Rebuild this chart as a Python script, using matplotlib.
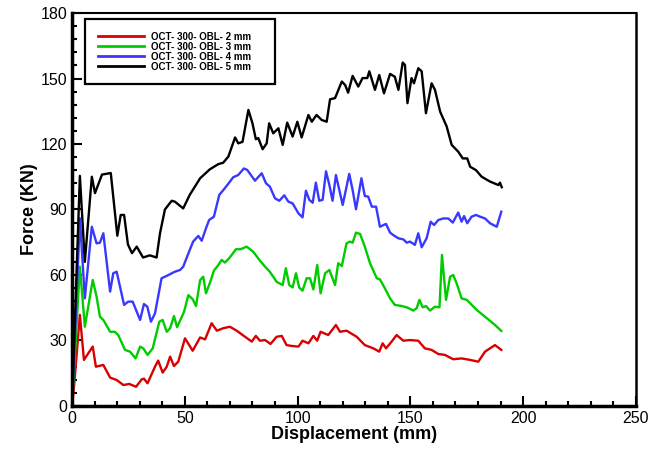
import matplotlib.pyplot as plt
from matplotlib.ticker import MultipleLocator

# data (displacement mm, force kN)
x2 = [0, 1, 3.5, 5.3, 9.2, 10.6, 13.9, 16.9, 19.8, 22.8, 25.4, 28.4, 30.9, 31.9, 33.5, 36.8, 38.2, 40.2,
      42.0, 43.5, 45.2, 47.1, 50.1, 53.5, 56.8, 59.0, 61.9, 64.2, 67.0, 70.0, 73.0, 76.7, 79.7, 81.5,
      83.3, 85.6, 88.0, 90.7, 93.0, 95.1, 97.4, 100.4, 102.2, 104.8, 107.0, 108.7, 110.2, 113.6, 117.0,
      118.8, 121.7, 126.2, 129.8, 133.6, 136.2, 137.7, 139.2, 141.7, 143.9, 146.9, 149.8, 153.5, 156.4,
      159.4, 162.4, 165.3, 169.0, 172.7, 176.5, 180.1, 183.1, 187.5, 190.3]
f2 = [0, 10, 41.7, 21.1, 27.2, 18, 18.8, 13, 11.9, 9.6, 10.1, 8.8, 12.2, 12.5, 10.4, 18, 20.8, 15.3,
      18, 22.6, 18.3, 20.3, 31, 25.3, 31.4, 30.5, 37.9, 34.5, 35.6, 36.3, 34.5, 31.7, 29.5, 32.1,
      29.9, 30.2, 28.4, 31.7, 32.1, 27.9, 27.5, 27.2, 29.9, 28.7, 32.1, 29.9, 34, 32.5, 37.1,
      34, 34.5, 31.7, 27.9, 26.4, 24.9, 28.7, 26.4, 29.5, 32.5, 29.9, 30.2, 29.9, 26.4,
      25.7, 23.8, 23.4, 21.4, 21.8, 21.1, 20.3, 24.9, 27.9, 25.7]

x3 = [0, 3.5, 5.7, 9.2, 10.9, 12.4, 13.9, 16.9, 19.0, 20.5, 23.5, 25.7, 28.2, 30.2, 31.6, 33.5, 35.8,
      38.7, 40.2, 42.0, 43.5, 45.2, 46.6, 49.7, 51.6, 53.5, 55.0, 56.8, 58.2, 59.4, 61.5, 62.9, 64.9,
      66.3, 67.8, 69.7, 72.7, 74.8, 77.4, 80.3, 83.3, 85.6, 87.7, 90.7, 93.4, 94.8, 96.3, 97.8, 99.3,
      100.7, 102.2, 104.0, 105.5, 107.0, 108.7, 110.2, 112.2, 114.1, 116.6, 118.0, 119.6, 121.7, 123.2,
      124.4, 125.9, 127.7, 129.8, 132.1, 135.1, 136.5, 138.7, 141.0, 143.1, 146.1, 148.4, 151.3, 152.8,
      154.0, 155.5, 156.9, 158.7, 160.9, 162.9, 164.0, 165.8, 167.6, 169.0, 170.5, 172.7, 175.0, 179.4,
      183.9, 187.5, 190.3]
f3 = [0, 63.8, 36.3, 57.7, 50.1, 40.9, 39.4, 34, 34, 32.5, 25.7, 24.9, 21.8, 27.2, 26.4, 23.4, 26.4,
      38.6, 39.4, 34, 35.6, 41.2, 36.1, 43.2, 50.8, 48.9, 45.8, 57.7, 59.2, 51.6, 57.4, 62, 64.6,
      66.9, 65.7, 67.7, 71.8, 71.8, 73, 70.7, 66.6, 63.8, 61.5, 56.9, 55.4, 63.1, 55.4, 54.3, 60.8,
      54.3, 52.8, 58.5, 58.5, 53.4, 64.6, 51.6, 60.8, 62.3, 55.4, 65.4, 64.1, 74.5, 75.3,
      74.8, 79.4, 78.8, 73, 65.4, 58.5, 58, 53.9, 49.3, 46.3, 45.8, 45.2, 43.7, 44.8,
      48.6, 45.2, 45.8, 43.7, 45.5, 45.2, 69.2, 48.6, 59.2, 60, 56.2, 49.3, 48.6, 44,
      40.2, 37.1, 34.4]

x4 = [0, 3.5, 5.7, 8.8, 10.9, 12.4, 13.9, 16.9, 18.3, 19.8, 23.1, 24.9, 26.9, 30.2, 31.9, 33.4, 35.0,
      36.8, 39.7, 42.0, 45.6, 47.9, 49.3, 51.6, 53.7, 56.0, 57.5, 59.4, 60.8, 62.9, 65.3, 67.8, 71.5,
      73.7, 76.2, 77.7, 81.1, 84.1, 86.0, 87.7, 90.0, 91.9, 94.1, 95.9, 97.8, 100.4, 102.2, 103.7,
      105.2, 106.7, 108.1, 109.6, 111.1, 112.6, 114.1, 115.5, 117.0, 118.5, 120.0, 122.9, 124.4, 125.9,
      128.3, 129.8, 131.3, 132.9, 134.8, 136.5, 139.2, 141.0, 142.4, 144.7, 146.9, 148.4, 149.8, 152.0,
      153.5, 155.0, 157.2, 159.0, 160.5, 162.4, 164.6, 166.8, 168.8, 171.2, 172.7, 173.8, 175.2, 177.1,
      179.1, 180.9, 183.1, 185.3, 188.3, 190.3]
f4 = [0, 86, 49.3, 82.1, 74.5, 74.8, 79.1, 52.4, 60.8, 61.5, 46.3, 47.8, 47.8, 39.4, 46.7, 45.5, 38.6,
      42.4, 58.5, 59.6, 61.5, 62.3, 63.8, 69.9, 75.3, 77.9, 75.7, 81.4, 85.2, 86.7, 96.7, 99.8, 104.8,
      105.8, 108.8, 108.1, 103.2, 106.6, 102, 100.5, 95.1, 94, 96.5, 93.6, 92.8, 88.2, 86.4, 98.6,
      94.4, 93.1, 102.3, 94, 94.4, 107.5, 101.2, 94, 105.8, 98.9, 92.1, 106.3, 98.9, 90.1,
      104.3, 96.2, 95.9, 91.3, 91.3, 82.1, 83.4, 79.4, 78.3, 76.8, 76.3, 74.8, 75.3, 73.8,
      79.1, 72.7, 76.8, 84.4, 82.9, 85.2, 85.9, 85.9, 84, 88.6, 84.4, 87, 83.7, 86.7,
      87.5, 86.7, 85.9, 83.7, 82.1, 89]

x5 = [0, 3.5, 5.7, 8.8, 10.2, 13.3, 17.2, 20.1, 21.6, 23.1, 24.8, 26.6, 28.7, 31.5, 34.5, 37.5, 39.0,
      41.2, 44.2, 45.6, 49.3, 52.2, 56.8, 61.1, 64.9, 67.0, 69.3, 72.3, 73.7, 75.6, 78.2, 80.0, 81.5,
      82.6, 84.5, 86.3, 87.4, 89.2, 91.5, 93.4, 95.4, 97.8, 99.9, 101.8, 104.8, 106.3, 108.4, 110.7,
      112.9, 114.4, 116.6, 119.6, 121.1, 122.4, 124.4, 126.9, 128.8, 130.9, 131.8, 134.3, 136.2, 138.3,
      141.0, 143.1, 144.7, 146.6, 147.6, 148.7, 150.5, 151.6, 153.5, 155.0, 156.9, 159.4, 160.9, 163.2,
      166.1, 168.3, 171.2, 173.2, 175.2, 176.5, 179.1, 181.6, 185.3, 189.0, 189.7, 190.5]
f5 = [0, 105.4, 66, 105, 97.5, 106, 106.7, 78, 87.5, 87.5, 74, 70, 73, 68, 69, 68, 79,
      90, 94, 93.6, 90.5, 96.7, 104.3, 108.4, 110.8, 111.4, 114.2, 123, 120.3, 121, 135.6, 129.5, 122.2,
      122.7, 117.6, 120.3, 129.5, 124.9, 127.2, 119.6, 129.8, 123.4, 130.2, 123, 133.3, 130.2, 133.3,
      131, 130.2, 140.5, 141, 148.6, 147, 143.5, 151.2, 146.3, 150.2, 150.2, 153.3, 144.8, 151.6,
      143.2, 152.1, 150.8, 144.8, 157.3, 156.2, 138.7, 150.2, 147.8, 154.7, 153.3, 134.1, 147.8,
      144.8, 134.8, 128, 119.6, 116.5, 113.4, 113.4, 109.6, 108, 105, 102.8, 101.2, 102.3, 100.2]

labels = ['OCT- 300- OBL- 2 mm', 'OCT- 300- OBL- 3 mm', 'OCT- 300- OBL- 4 mm', 'OCT- 300- OBL- 5 mm']
colors = ['#d80000', '#00cc00', '#3838ff', 'black']

plt.rcParams['font.family'] = ['Liberation Sans', 'DejaVu Sans']

fig = plt.figure(figsize=(6.64, 4.5), dpi=100)
ax = fig.add_axes([0.1084, 0.0978, 0.8494, 0.8733])

for xs, ys, lab, c in zip([x2, x3, x4, x5], [f2, f3, f4, f5], labels, colors):
    ax.plot(xs, ys, color=c, lw=1.7, label=lab)

ax.set_xlim(0, 250)
ax.set_ylim(0, 180)
ax.xaxis.set_major_locator(MultipleLocator(50))
ax.xaxis.set_minor_locator(MultipleLocator(10))
ax.yaxis.set_major_locator(MultipleLocator(30))
ax.yaxis.set_minor_locator(MultipleLocator(6))
ax.tick_params(which='both', direction='in', width=1.5, labelsize=11.5)
ax.tick_params(which='major', length=7)
ax.tick_params(which='minor', length=3.5)
ax.spines['left'].set_linewidth(2.5)
ax.spines['bottom'].set_linewidth(2.5)
ax.spines['top'].set_linewidth(1.5)
ax.spines['right'].set_linewidth(1.8)

ax.set_xlabel('Displacement (mm)', fontsize=13, fontweight='bold', labelpad=0)
ax.set_ylabel('Force (KN)', fontsize=13, fontweight='bold', labelpad=2)

leg = ax.legend(loc='upper left', bbox_to_anchor=(0.023, 0, 0.337, 0.985), mode='expand',
                prop={'size': 7, 'weight': 'bold'}, handlelength=4.8, handletextpad=0.7,
                labelspacing=0.0, borderpad=1.3, fancybox=False, framealpha=1,
                edgecolor='black', borderaxespad=0)
leg.get_frame().set_linewidth(1.6)
for h in leg.get_lines():
    h.set_linewidth(2.0)

fig.savefig('out.png', dpi=100)
